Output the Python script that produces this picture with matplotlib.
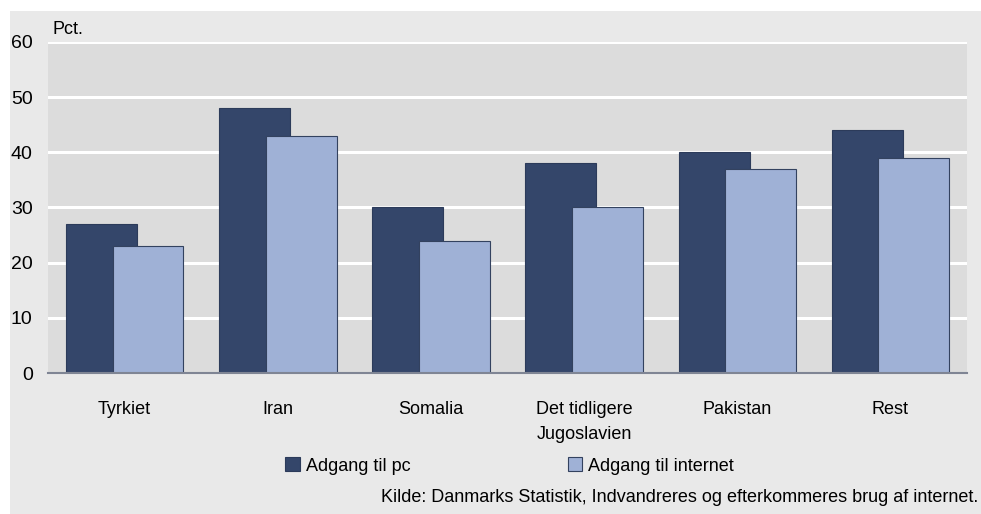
import matplotlib
matplotlib.use("Agg")
import matplotlib.pyplot as plt
from matplotlib.patches import Rectangle
import numpy as np

categories = ["Tyrkiet", "Iran", "Somalia", "Det tidligere\nJugoslavien", "Pakistan", "Rest"]
pc_values = [27, 48, 30, 38, 40, 44]
internet_values = [23, 43, 24, 30, 37, 39]
series_names = ["Adgang til pc", "Adgang til internet"]
yticks = [0, 10, 20, 30, 40, 50, 60]
source = "Kilde: Danmarks Statistik, Indvandreres og efterkommeres brug af internet."

plt.rcParams['font.family'] = ['Liberation Sans', 'DejaVu Sans']

W, H = 981, 514
fig = plt.figure(figsize=(W/100, H/100), dpi=100)
fig.patch.set_facecolor("white")
# outer gray panel
panel = Rectangle((10/W, 0), 1 - 10/W, 1 - 11/H, transform=fig.transFigure,
                  facecolor="#e9e9e9", edgecolor="none", zorder=-5)
fig.add_artist(panel)

ax = fig.add_axes([48/W, 1 - 373/H, (967-48)/W, (373-42)/H])
ax.set_zorder(2)
ax.set_facecolor("#dcdcdc")
ax.set_xlim(0, len(categories))
ax.set_ylim(0, 60)

x = np.arange(len(categories)) + 0.5
bw = 0.463
dark = "#34466a"
light = "#9fb1d6"
ax.bar(x - 0.151, pc_values, bw, color=dark, edgecolor="#2c3b5a", linewidth=0.8, zorder=3,
       label=series_names[0])
ax.bar(x + 0.153, internet_values, bw, color=light, edgecolor="#33425f", linewidth=0.8, zorder=4,
       label=series_names[1])

ax.set_yticks(yticks)
ax.set_yticklabels([str(v) for v in yticks], fontsize=14)
ax.yaxis.grid(True, color="white", linewidth=2.2, zorder=1)
ax.set_axisbelow(True)
ax.tick_params(axis="y", length=0, pad=11)
ax.set_xticks(x)
ax.set_xticklabels(categories, fontsize=13, linespacing=1.6)
ax.tick_params(axis="x", length=0, pad=20)
for s in ["top", "right", "left"]:
    ax.spines[s].set_visible(False)
ax.spines["bottom"].set_color("#7f8594")
ax.spines["bottom"].set_linewidth(1.5)
ax.spines["bottom"].set_zorder(5)

fig.text(52/W, 1 - 29/H, "Pct.", fontsize=13, ha="left", va="center", zorder=3)

# legend
handles, labels = ax.get_legend_handles_labels()
fig.legend(handles, labels, loc="center left", bbox_to_anchor=(278/W, 1 - 466/H),
           ncol=2, frameon=False, fontsize=13, handlelength=0.8, handleheight=0.8,
           handletextpad=0.35, columnspacing=8.7, borderaxespad=0)

fig.text(978/W, 1 - 497/H, source, fontsize=13, ha="right", va="center", zorder=3)

fig.savefig("out.png", dpi=100, facecolor=fig.get_facecolor())
